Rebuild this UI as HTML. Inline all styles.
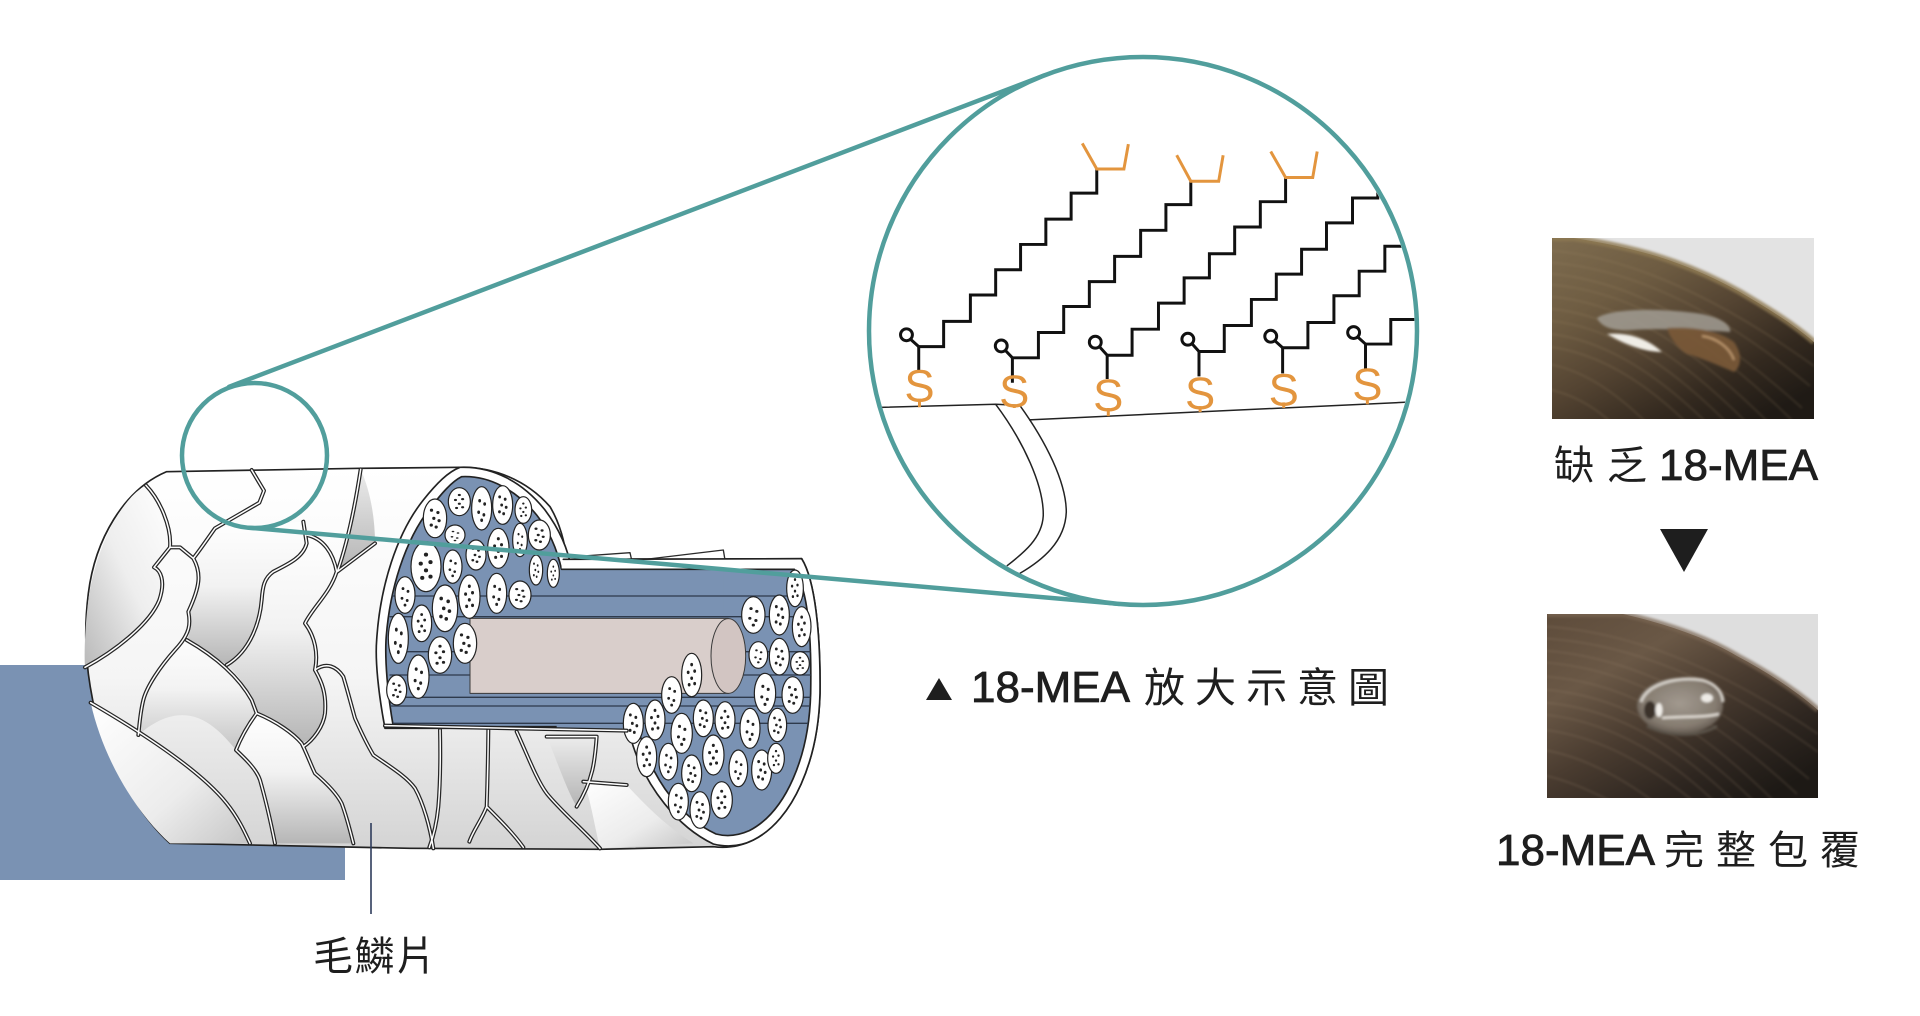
<!DOCTYPE html>
<html><head><meta charset="utf-8">
<style>
html,body{margin:0;padding:0;background:#fff;}
body{width:1920px;height:1016px;overflow:hidden;}
svg{display:block;}
</style></head><body>
<svg xmlns="http://www.w3.org/2000/svg" xmlns:xlink="http://www.w3.org/1999/xlink" width="1920" height="1016" viewBox="0 0 1920 1016">
<defs>
 <linearGradient id="silG" x1="0" y1="0" x2="0" y2="1">
  <stop offset="0" stop-color="#ffffff"/><stop offset="0.55" stop-color="#f5f5f5"/><stop offset="1" stop-color="#d4d4d4"/>
 </linearGradient>
 <linearGradient id="gV" x1="0" y1="0" x2="0" y2="1">
  <stop offset="0" stop-color="#ffffff"/><stop offset="0.45" stop-color="#f2f2f2"/><stop offset="1" stop-color="#b6b6b6"/>
 </linearGradient>
 <linearGradient id="gD" x1="1" y1="0" x2="0" y2="1">
  <stop offset="0" stop-color="#ffffff"/><stop offset="0.5" stop-color="#eeeeee"/><stop offset="1" stop-color="#b9b9b9"/>
 </linearGradient>
 <linearGradient id="gG" x1="0" y1="0" x2="0" y2="1">
  <stop offset="0" stop-color="#ececec"/><stop offset="1" stop-color="#b4b4b4"/>
 </linearGradient>
 <linearGradient id="gW" x1="0" y1="0" x2="1" y2="1">
  <stop offset="0" stop-color="#ffffff"/><stop offset="0.6" stop-color="#ececec"/><stop offset="1" stop-color="#c6c6c6"/>
 </linearGradient>
 <linearGradient id="hair1" x1="0" y1="0" x2="0.8" y2="1">
  <stop offset="0" stop-color="#7e6c4f"/><stop offset="0.3" stop-color="#6e5c42"/><stop offset="0.55" stop-color="#544432"/><stop offset="0.8" stop-color="#33291f"/><stop offset="1" stop-color="#1f1a15"/>
 </linearGradient>
 <linearGradient id="hair2" x1="0" y1="0" x2="0.8" y2="1">
  <stop offset="0" stop-color="#5e4c3b"/><stop offset="0.3" stop-color="#6a5846"/><stop offset="0.55" stop-color="#4a3c30"/><stop offset="0.8" stop-color="#2e2620"/><stop offset="1" stop-color="#1d1915"/>
 </linearGradient>
 <radialGradient id="drop" cx="0.5" cy="0.45" r="0.6">
  <stop offset="0" stop-color="#a9a197"/><stop offset="0.7" stop-color="#8a8176"/><stop offset="1" stop-color="#5a5047"/>
 </radialGradient>
 <filter id="bl1" x="-20%" y="-20%" width="140%" height="140%"><feGaussianBlur stdDeviation="1.4"/></filter>
 <filter id="bl2" x="-20%" y="-20%" width="140%" height="140%"><feGaussianBlur stdDeviation="2.5"/></filter>
 <clipPath id="p1c"><rect x="0" y="0" width="262" height="181"/></clipPath>
 <clipPath id="p2c"><rect x="0" y="0" width="271" height="184"/></clipPath>
 <clipPath id="bigc"><circle cx="761" cy="783" r="731"/></clipPath>
 <clipPath id="stripeClip">
  <path d="M1000,800 C982,700 975,600 978,540 C988,390 1035,240 1110,145 C1145,100 1175,65 1205,50 C1290,46 1370,92 1430,165 C1470,215 1492,270 1505,330 L1505,800 Z"/>
  <rect x="1490" y="328" width="500" height="487"/>
  <path d="M2203,328 C2245,390 2255,530 2252,700 C2247,890 2178,1055 2068,1112 C2032,1128 1998,1130 1968,1122 C1865,1075 1785,965 1748,850 C1730,800 1722,770 1722,740 L1722,328 Z"/>
 </clipPath>
 <g id="o1"><ellipse rx="1" ry="1" fill="#fff" stroke="#222" stroke-width="1.2" vector-effect="non-scaling-stroke"/><g fill="#222"><ellipse cx="-.3" cy="-.42" rx=".14" ry=".08"/><ellipse cx=".25" cy="-.3" rx=".14" ry=".08"/><ellipse cx="-.1" cy="0" rx=".14" ry=".08"/><ellipse cx=".35" cy=".12" rx=".14" ry=".08"/><ellipse cx="-.32" cy=".35" rx=".14" ry=".08"/><ellipse cx=".1" cy=".45" rx=".14" ry=".08"/></g></g>
 <g id="o2"><ellipse rx="1" ry="1" fill="#fff" stroke="#222" stroke-width="1.2" vector-effect="non-scaling-stroke"/><g fill="#222"><ellipse cx="0" cy="-.48" rx=".14" ry=".08"/><ellipse cx="-.35" cy="-.12" rx=".14" ry=".08"/><ellipse cx=".3" cy="-.18" rx=".14" ry=".08"/><ellipse cx="0" cy=".15" rx=".14" ry=".08"/><ellipse cx="-.25" cy=".45" rx=".14" ry=".08"/><ellipse cx=".3" cy=".4" rx=".14" ry=".08"/></g></g>
 <g id="o3"><ellipse rx="1" ry="1" fill="#fff" stroke="#222" stroke-width="1.2" vector-effect="non-scaling-stroke"/><g fill="#222"><ellipse cx="-.2" cy="-.35" rx=".14" ry=".08"/><ellipse cx=".3" cy="-.2" rx=".14" ry=".08"/><ellipse cx="-.3" cy=".18" rx=".14" ry=".08"/><ellipse cx=".22" cy=".3" rx=".14" ry=".08"/><ellipse cx="0" cy=".55" rx=".14" ry=".08"/></g></g>
</defs>

<rect width="1920" height="1016" fill="#fff"/>

<!-- blue block -->
<rect x="0" y="665" width="345" height="215" fill="#7a92b3"/>

<!-- HAIR ILLUSTRATION (zoom coords) -->
<g transform="translate(60,460) scale(0.333333)" stroke-linejoin="round" stroke-linecap="round">
 <path d="M320,35 L900,25 L1200,22 C1300,20 1400,60 1470,140 C1500,190 1515,250 1520,298 L2225,296 C2265,360 2282,520 2280,700 C2275,900 2200,1080 2080,1140 C2040,1160 2000,1165 1960,1160 L1620,1168 L1050,1165 L330,1150 C230,1060 130,880 98,720 C78,620 70,520 85,400 C105,240 190,90 320,35 Z" fill="url(#silG)" stroke="#222" stroke-width="5"/>
 <!-- slivers on top -->
 <path d="M1400,300 L1710,278 L1715,300 Z" fill="#fff" stroke="#2b2b2b" stroke-width="4"/>
 <path d="M1740,300 L1990,270 L1995,300 Z" fill="#fff" stroke="#2b2b2b" stroke-width="4"/>
 <!-- flaps -->
 <path d="M258,76 C190,110 110,250 85,420 C75,500 72,580 75,622 C170,570 270,490 298,420 C318,360 300,330 282,322 L330,262 C335,200 300,120 258,76 Z" fill="url(#gD)"/>
 <path d="M400,295 C425,340 420,380 385,455 C392,490 392,520 380,540 C450,580 480,600 500,615 C575,570 600,480 605,420 C608,380 612,355 640,335 C690,310 730,290 740,250 L730,185 C650,195 540,195 465,205 C440,240 420,270 400,295 Z" fill="url(#gV)"/>
 <path d="M902,28 C885,140 862,250 832,335 L945,250 C945,170 930,90 902,28 Z" fill="url(#gG)"/>
 <path d="M605,420 C600,480 575,570 500,615 C530,640 560,680 575,720 L590,760 C650,785 700,820 725,850 C760,835 790,800 795,760 C800,700 785,665 765,630 C775,580 765,530 735,490 C760,440 810,400 830,335 C820,280 790,235 740,225 L740,250 C730,290 690,310 640,335 C612,355 608,380 605,420 Z" fill="url(#gV)"/>
 <path d="M92,728 C250,820 420,930 500,1030 C540,1080 560,1130 570,1150 L330,1150 C230,1060 130,900 92,728 Z" fill="url(#gW)"/>
 <path d="M590,760 C650,785 700,820 725,850 C740,880 755,920 765,940 C800,970 830,1000 845,1030 C860,1070 870,1110 880,1150 L645,1150 C635,1100 620,1030 600,960 C590,930 560,900 528,870 C540,840 560,800 590,760 Z" fill="url(#gV)"/>
 <path d="M235,825 C240,760 250,720 300,620 C330,590 360,560 380,540 C450,580 530,640 575,720 L590,760 C560,800 540,840 528,870 C470,800 380,700 235,825 Z" fill="url(#gV)" opacity="0.7"/>
 <path d="M1530,830 L1610,830 C1605,900 1600,960 1550,1040 C1520,990 1490,900 1460,830 Z" fill="url(#gG)"/>
 <path d="M1570,965 L1700,975 C1760,1040 1820,1100 1900,1150 L1620,1165 C1600,1080 1590,1010 1570,965 Z" fill="url(#gW)"/>
 <!-- scale edges (double line) -->
 <g fill="none" stroke="#262626" stroke-width="12">
  <path d="M75,622 C170,570 270,490 298,420 C318,360 300,330 282,322 L330,262 C335,200 300,120 258,76"/>
  <path d="M575,30 L612,92 L598,128 C560,150 500,185 465,205 C440,240 420,270 400,295 C425,340 420,380 385,455 C392,490 392,520 345,570 C300,620 260,680 250,720 C240,760 238,800 235,825"/>
  <path d="M330,262 L360,262 L400,295"/>
  <path d="M730,185 L740,250 C730,290 690,310 640,335 C612,355 608,380 605,420 C600,480 575,570 500,615"/>
  <path d="M740,225 C790,235 820,280 830,335 C810,400 760,440 735,490 C765,530 775,580 765,630 C785,665 800,700 795,760 C790,800 760,840 730,860"/>
  <path d="M902,28 C885,140 862,250 832,335 L945,250"/>
  <path d="M92,728 C250,820 420,930 500,1030 C540,1080 560,1130 570,1150"/>
  <path d="M380,540 C450,580 530,640 575,720 L590,760 C560,800 540,840 528,870 C560,900 590,930 600,960 C620,1030 635,1100 645,1150"/>
  <path d="M590,760 C650,785 700,820 725,850 C740,880 755,920 765,940 C800,970 830,1000 845,1030 C860,1070 870,1110 880,1150"/>
  <path d="M765,630 C800,605 830,620 850,650 C865,700 875,740 885,775 C905,820 925,860 940,885 C990,920 1040,950 1065,985 C1090,1030 1110,1100 1120,1165"/>
  <path d="M1140,810 C1142,900 1140,980 1135,1040 C1130,1090 1120,1130 1108,1162"/>
  <path d="M1285,810 C1284,900 1282,980 1280,1040 C1265,1080 1240,1110 1228,1145 M1280,1040 C1320,1080 1360,1120 1390,1162"/>
  <path d="M1370,815 C1400,880 1430,960 1460,1000 C1500,1050 1560,1100 1620,1165"/>
  <path d="M1460,830 L1610,830 C1605,900 1600,960 1550,1040"/>
  <path d="M1570,965 L1700,975"/>
 </g>
 <g fill="none" stroke="#ffffff" stroke-width="4.5">
  <path d="M75,622 C170,570 270,490 298,420 C318,360 300,330 282,322 L330,262 C335,200 300,120 258,76"/>
  <path d="M575,30 L612,92 L598,128 C560,150 500,185 465,205 C440,240 420,270 400,295 C425,340 420,380 385,455 C392,490 392,520 345,570 C300,620 260,680 250,720 C240,760 238,800 235,825"/>
  <path d="M330,262 L360,262 L400,295"/>
  <path d="M730,185 L740,250 C730,290 690,310 640,335 C612,355 608,380 605,420 C600,480 575,570 500,615"/>
  <path d="M740,225 C790,235 820,280 830,335 C810,400 760,440 735,490 C765,530 775,580 765,630 C785,665 800,700 795,760 C790,800 760,840 730,860"/>
  <path d="M902,28 C885,140 862,250 832,335 L945,250"/>
  <path d="M92,728 C250,820 420,930 500,1030 C540,1080 560,1130 570,1150"/>
  <path d="M380,540 C450,580 530,640 575,720 L590,760 C560,800 540,840 528,870 C560,900 590,930 600,960 C620,1030 635,1100 645,1150"/>
  <path d="M590,760 C650,785 700,820 725,850 C740,880 755,920 765,940 C800,970 830,1000 845,1030 C860,1070 870,1110 880,1150"/>
  <path d="M765,630 C800,605 830,620 850,650 C865,700 875,740 885,775 C905,820 925,860 940,885 C990,920 1040,950 1065,985 C1090,1030 1110,1100 1120,1165"/>
  <path d="M1140,810 C1142,900 1140,980 1135,1040 C1130,1090 1120,1130 1108,1162"/>
  <path d="M1285,810 C1284,900 1282,980 1280,1040 C1265,1080 1240,1110 1228,1145 M1280,1040 C1320,1080 1360,1120 1390,1162"/>
  <path d="M1370,815 C1400,880 1430,960 1460,1000 C1500,1050 1560,1100 1620,1165"/>
  <path d="M1460,830 L1610,830 C1605,900 1600,960 1550,1040"/>
  <path d="M1570,965 L1700,975"/>
 </g>

 <!-- first cross-section -->
 <path d="M975,805 C955,700 945,600 950,540 C960,380 1010,220 1090,120 C1130,70 1165,35 1200,22 C1300,18 1390,68 1455,150 C1500,210 1525,270 1535,330 L1535,805 Z" fill="#fff" stroke="#222" stroke-width="5"/>
 <path d="M1000,800 C982,700 975,600 978,540 C988,390 1035,240 1110,145 C1145,100 1175,65 1205,50 C1290,46 1370,92 1430,165 C1470,215 1492,270 1505,330 L1505,800 Z" fill="#7a92b3" stroke="#222" stroke-width="5"/>
 <!-- right end -->
 <path d="M2225,296 C2265,360 2282,520 2280,700 C2275,900 2200,1080 2080,1140 C2040,1160 2000,1162 1960,1152 C1850,1100 1760,980 1720,860 C1700,800 1695,760 1695,740 L1695,330 Z" fill="#fff" stroke="#222" stroke-width="5"/>
 <path d="M2203,328 C2245,390 2255,530 2252,700 C2247,890 2178,1055 2068,1112 C2032,1128 1998,1130 1968,1122 C1865,1075 1785,965 1748,850 C1730,800 1722,770 1722,740 L1722,328 Z" fill="#7a92b3" stroke="#222" stroke-width="5"/>
 <!-- stripes region -->
 <polygon points="1490,328 1990,328 1990,815 1700,812 1490,805" fill="#7a92b3"/>
 <polygon points="1505,298 2225,296 2203,328 1505,328" fill="#fff"/>
 <path d="M1510,298 L2225,296 M1505,328 L2203,328" stroke="#222" stroke-width="5" fill="none"/>
 <g clip-path="url(#stripeClip)" stroke="#2e3a4c" stroke-width="4" fill="none">
  <path d="M990,408 H2270 M990,470 H2270 M990,575 H2270 M990,645 H2270 M990,712 H2270 M990,738 H2270 M990,790 H2270"/>
 </g>
 <!-- medulla -->
 <rect x="1230" y="475" width="775" height="225" fill="#d9cecb" stroke="#3a3a3a" stroke-width="3"/>
 <ellipse cx="2005" cy="588" rx="52" ry="112" fill="#d2c5c2" stroke="#3a3a3a" stroke-width="3"/>
 <!-- first section ovals -->
 <use xlink:href="#o1" transform="translate(1125,175) scale(35,58)"/>
 <use xlink:href="#o2" transform="translate(1198,125) scale(33,42)"/>
 <use xlink:href="#o3" transform="translate(1265,145) scale(30,65)"/>
 <use xlink:href="#o1" transform="translate(1328,135) scale(30,58)"/>
 <use xlink:href="#o2" transform="translate(1390,150) scale(25,40)"/>
 <use xlink:href="#o3" transform="translate(1185,225) scale(30,30)"/>
 <use xlink:href="#o1" transform="translate(1248,285) scale(30,45)"/>
 <use xlink:href="#o2" transform="translate(1315,265) scale(32,60)"/>
 <use xlink:href="#o3" transform="translate(1380,240) scale(22,50)"/>
 <use xlink:href="#o1" transform="translate(1438,225) scale(33,45)"/>
 <use xlink:href="#o2" transform="translate(1098,320) scale(45,75)"/>
 <use xlink:href="#o3" transform="translate(1178,320) scale(28,50)"/>
 <use xlink:href="#o1" transform="translate(1428,330) scale(20,45)"/>
 <use xlink:href="#o2" transform="translate(1480,340) scale(18,42)"/>
 <use xlink:href="#o3" transform="translate(1035,405) scale(30,55)"/>
 <use xlink:href="#o1" transform="translate(1155,445) scale(38,70)"/>
 <use xlink:href="#o2" transform="translate(1228,410) scale(32,65)"/>
 <use xlink:href="#o3" transform="translate(1310,400) scale(30,60)"/>
 <use xlink:href="#o1" transform="translate(1380,405) scale(33,42)"/>
 <use xlink:href="#o2" transform="translate(1085,490) scale(30,55)"/>
 <use xlink:href="#o3" transform="translate(1015,535) scale(30,75)"/>
 <use xlink:href="#o1" transform="translate(1215,550) scale(35,60)"/>
 <use xlink:href="#o2" transform="translate(1140,585) scale(35,55)"/>
 <use xlink:href="#o3" transform="translate(1075,650) scale(32,65)"/>
 <use xlink:href="#o1" transform="translate(1010,690) scale(30,45)"/>
 <!-- right end ovals -->
 <use xlink:href="#o2" transform="translate(2205,385) scale(25,55)"/>
 <use xlink:href="#o3" transform="translate(2080,465) scale(35,55)"/>
 <use xlink:href="#o1" transform="translate(2158,465) scale(30,60)"/>
 <use xlink:href="#o2" transform="translate(2225,500) scale(28,60)"/>
 <use xlink:href="#o3" transform="translate(2095,585) scale(28,40)"/>
 <use xlink:href="#o1" transform="translate(2158,590) scale(30,55)"/>
 <use xlink:href="#o2" transform="translate(2220,610) scale(28,35)"/>
 <use xlink:href="#o3" transform="translate(2115,700) scale(32,60)"/>
 <use xlink:href="#o1" transform="translate(2198,705) scale(32,55)"/>
 <use xlink:href="#o2" transform="translate(1895,645) scale(30,65)"/>
 <use xlink:href="#o3" transform="translate(1835,705) scale(30,55)"/>
 <use xlink:href="#o1" transform="translate(1720,790) scale(30,60)"/>
 <use xlink:href="#o2" transform="translate(1785,780) scale(30,60)"/>
 <use xlink:href="#o3" transform="translate(1865,820) scale(32,60)"/>
 <use xlink:href="#o1" transform="translate(1930,775) scale(30,55)"/>
 <use xlink:href="#o2" transform="translate(1995,780) scale(30,55)"/>
 <use xlink:href="#o3" transform="translate(2070,805) scale(30,60)"/>
 <use xlink:href="#o1" transform="translate(2152,795) scale(28,50)"/>
 <use xlink:href="#o2" transform="translate(1760,890) scale(30,60)"/>
 <use xlink:href="#o3" transform="translate(1825,905) scale(28,55)"/>
 <use xlink:href="#o1" transform="translate(1895,940) scale(30,55)"/>
 <use xlink:href="#o2" transform="translate(1960,885) scale(32,60)"/>
 <use xlink:href="#o3" transform="translate(2035,925) scale(28,55)"/>
 <use xlink:href="#o1" transform="translate(2105,930) scale(30,60)"/>
 <use xlink:href="#o2" transform="translate(2148,895) scale(25,45)"/>
 <use xlink:href="#o3" transform="translate(1855,1025) scale(30,55)"/>
 <use xlink:href="#o1" transform="translate(1920,1050) scale(30,55)"/>
 <use xlink:href="#o2" transform="translate(1985,1020) scale(32,55)"/>
 <!-- boundary under stripes -->
 <path d="M975,797 L1700,812" stroke="#222" stroke-width="12" fill="none"/>
 <path d="M975,797 L1700,812" stroke="#fff" stroke-width="4.5" fill="none"/>
</g>

<!-- leader line -->
<line x1="371" y1="823" x2="371" y2="914" stroke="#2e3c5c" stroke-width="1.6"/>

<!-- teal tangent lines -->
<g stroke="#519e9c" stroke-width="4.5" fill="none" stroke-linecap="round">
 <line x1="229" y1="386.8" x2="1045.2" y2="75.1"/>
 <line x1="248.6" y1="527.7" x2="1119.1" y2="603.9"/>
 <circle cx="254.5" cy="455.5" r="72.5"/>
</g>
<circle cx="1143" cy="331" r="274" fill="#fff" stroke="#519e9c" stroke-width="4.5"/>

<!-- molecule diagram -->
<g transform="translate(860,40) scale(0.3717)">
 <g clip-path="url(#bigc)" stroke-linecap="butt" stroke-linejoin="miter">
  <g fill="none" stroke="#222" stroke-width="4">
   <path d="M30,989 L365,980 L430,983"/>
   <path d="M455,1022 L1500,973"/>
   <path d="M365,980 C440,1080 495,1200 493,1280 C490,1340 440,1380 395,1415"/>
   <path d="M430,983 C500,1080 555,1190 555,1270 C552,1350 490,1400 430,1435"/>
  </g>
  <g fill="none" stroke="#111" stroke-width="8">
   <path d="M158,825 H225 V757 H297 V686 H365 V618 H432 V550 H500 V482 H568 V412 H637 V347"/>
   <path d="M410,855 H480 V787 H548 V717 H617 V650 H685 V582 H755 V512 H823 V443 H890 V380"/>
   <path d="M665,848 H732 V778 H803 V708 H872 V640 H940 V575 H1008 V503 H1077 V435 H1145 V370"/>
   <path d="M912,838 H980 V768 H1053 V698 H1120 V630 H1188 V563 H1255 V492 H1325 V425 H1393 V355 H1460"/>
   <path d="M1137,828 H1205 V760 H1275 V688 H1343 V622 H1412 V555 H1480 V485 H1550"/>
   <path d="M1360,818 H1428 V752 H1500 V680 H1570"/>
   <path d="M158,825 V888 M410,855 V922 M665,848 V912 M912,838 V905 M1137,828 V897 M1360,818 V886"/>
   <path d="M136,805 L158,825 M391,835 L410,855 M644,825 L665,848 M893,817 L912,838 M1116,809 L1137,828 M1339,799 L1360,818"/>
  </g>
  <g fill="#fff" stroke="#111" stroke-width="8">
   <circle cx="125" cy="793" r="16"/>
   <circle cx="380" cy="823" r="16"/>
   <circle cx="633" cy="813" r="16"/>
   <circle cx="882" cy="805" r="16"/>
   <circle cx="1105" cy="797" r="16"/>
   <circle cx="1328" cy="787" r="16"/>
  </g>
  <g fill="none" stroke="#e3953e" stroke-width="8">
   <path d="M598,278 L637,347 H710 L722,280"/>
   <path d="M852,310 L890,380 H965 L977,310"/>
   <path d="M1105,300 L1145,370 H1218 L1230,300"/>
   <path d="M160,965 V988 M415,980 V990 M668,990 V1012 M915,985 V1001 M1140,975 V990 M1365,962 V980"/>
  </g>
  <g fill="#e3953e" font-family="'Liberation Sans',sans-serif" font-size="122" text-anchor="middle">
   <text x="160" y="973">S</text>
   <text x="415" y="988">S</text>
   <text x="668" y="998">S</text>
   <text x="915" y="993">S</text>
   <text x="1140" y="983">S</text>
   <text x="1365" y="968">S</text>
  </g>
 </g>
</g>

<!-- PHOTO 1 -->
<g transform="translate(1552,238)" clip-path="url(#p1c)">
 <rect x="0" y="0" width="262" height="181" fill="#e3e3e3"/>
 <path d="M0,0 H22 C60,6 95,14 122,24 C150,34 170,44 188,54 C215,70 240,85 262,104 V181 H0 Z" fill="url(#hair1)"/>
 <path d="M0,0 H22 C60,6 95,14 122,24 C150,34 170,44 188,54 C215,70 240,85 262,104" fill="none" stroke="#8f7a52" stroke-width="6" opacity="0.8" filter="url(#bl1)"/>
 <g fill="none" stroke="#a8916e" stroke-width="1.2" opacity="0.28" filter="url(#bl1)">
  <path d="M-10,12 C70,16 160,55 262,128"/>
  <path d="M-10,24 C70,28 160,66 258,148"/>
  <path d="M-10,35 C70,40 150,80 250,170"/>
  <path d="M-10,46 C70,50 145,90 240,182"/>
  <path d="M-10,58 C60,61 130,98 220,188"/>
  <path d="M-10,70 C55,74 120,108 200,190"/>
  <path d="M-10,82 C50,86 110,118 180,190"/>
  <path d="M-10,95 C45,99 100,130 160,190"/>
  <path d="M-10,108 C40,112 90,140 140,190"/>
  <path d="M-10,125 C30,130 65,155 100,190"/>
  <path d="M-10,150 C20,155 45,170 65,190"/>
 </g>
 <g filter="url(#bl1)">
  <path d="M45,80 C60,70 110,70 150,76 C170,80 180,88 178,94 C150,92 110,90 80,92 C62,93 50,90 45,80 Z" fill="#a19c93" opacity="0.85"/>
  <path d="M115,90 C140,88 165,92 182,104 C190,115 190,128 182,134 C168,128 150,120 135,116 C125,110 118,100 115,90 Z" fill="#7a5a38" opacity="0.9"/>
  <path d="M55,96 C75,94 95,100 110,114 C92,114 72,106 55,96 Z" fill="#f0ede6"/>
  <path d="M150,98 C165,100 178,110 182,122" fill="none" stroke="#c09a70" stroke-width="2"/>
 </g>
</g>

<!-- PHOTO 2 -->
<g transform="translate(1547,614)" clip-path="url(#p2c)">
 <rect x="0" y="0" width="271" height="184" fill="#dedede"/>
 <path d="M0,0 H76 C120,10 160,24 190,42 C220,58 248,76 271,96 V184 H0 Z" fill="url(#hair2)"/>
 <path d="M0,0 H76 C120,10 160,24 190,42 C220,58 248,76 271,96" fill="none" stroke="#7a6652" stroke-width="6" opacity="0.7" filter="url(#bl1)"/>
 <g fill="none" stroke="#a08a72" stroke-width="1.2" opacity="0.3" filter="url(#bl1)">
  <path d="M-10,12 C80,16 170,52 271,120"/>
  <path d="M-10,24 C80,28 170,64 271,138"/>
  <path d="M-10,36 C80,41 160,80 262,165"/>
  <path d="M-10,48 C75,52 155,92 250,180"/>
  <path d="M-10,62 C70,66 140,100 230,190"/>
  <path d="M-10,75 C65,79 130,112 210,190"/>
  <path d="M-10,88 C60,92 120,122 190,190"/>
  <path d="M-10,100 C50,104 110,132 170,190"/>
  <path d="M-10,115 C45,120 95,145 150,190"/>
  <path d="M-10,135 C30,140 70,160 110,190"/>
  <path d="M-10,160 C20,165 45,178 70,190"/>
 </g>
 <g filter="url(#bl1)">
  <ellipse cx="133" cy="92" rx="43" ry="28" fill="url(#drop)" opacity="0.92"/>
  <path d="M94,88 C100,70 130,62 155,66 C170,70 176,80 176,88" fill="none" stroke="#d6d1ca" stroke-width="3"/>
  <ellipse cx="103" cy="96" rx="6" ry="9" fill="#3a322b"/>
  <ellipse cx="112" cy="96" rx="3.5" ry="7" fill="#f2efea"/>
  <ellipse cx="160" cy="84" rx="6" ry="4.5" fill="#eeebe6"/>
  <path d="M115,104 C135,102 155,104 172,100" fill="none" stroke="#e2ddd6" stroke-width="2.5"/>
  <path d="M100,112 C120,122 150,124 170,112" fill="none" stroke="#5c544b" stroke-width="3"/>
 </g>
</g>

<!-- TEXT -->
<g fill="#1e1e1e">
 <polygon points="926,700 952,700 939,678"/>
 <text x="971" y="702" font-family="'Liberation Sans',sans-serif" font-size="44" stroke="#1e1e1e" stroke-width="0.8">18-MEA</text>
 <text x="1144" y="702" font-family="'Liberation Sans','Noto Sans CJK TC',sans-serif" font-size="41" letter-spacing="10">放大示意圖</text>

 <text x="1554" y="479" font-family="'Liberation Sans','Noto Sans CJK TC',sans-serif" font-size="40" letter-spacing="13">缺乏</text>
 <text x="1659" y="480" font-family="'Liberation Sans',sans-serif" font-size="44" stroke="#1e1e1e" stroke-width="0.8">18-MEA</text>

 <polygon points="1660,529 1708,529 1684,572"/>

 <text x="1496" y="865" font-family="'Liberation Sans',sans-serif" font-size="44" stroke="#1e1e1e" stroke-width="0.8">18-MEA</text>
 <text x="1664" y="864" font-family="'Liberation Sans','Noto Sans CJK TC',sans-serif" font-size="40" letter-spacing="12">完整包覆</text>

 <text x="313" y="970" font-family="'Liberation Sans','Noto Sans CJK TC',sans-serif" font-size="40" letter-spacing="1.5">毛鱗片</text>
</g>
</svg>
</body></html>
